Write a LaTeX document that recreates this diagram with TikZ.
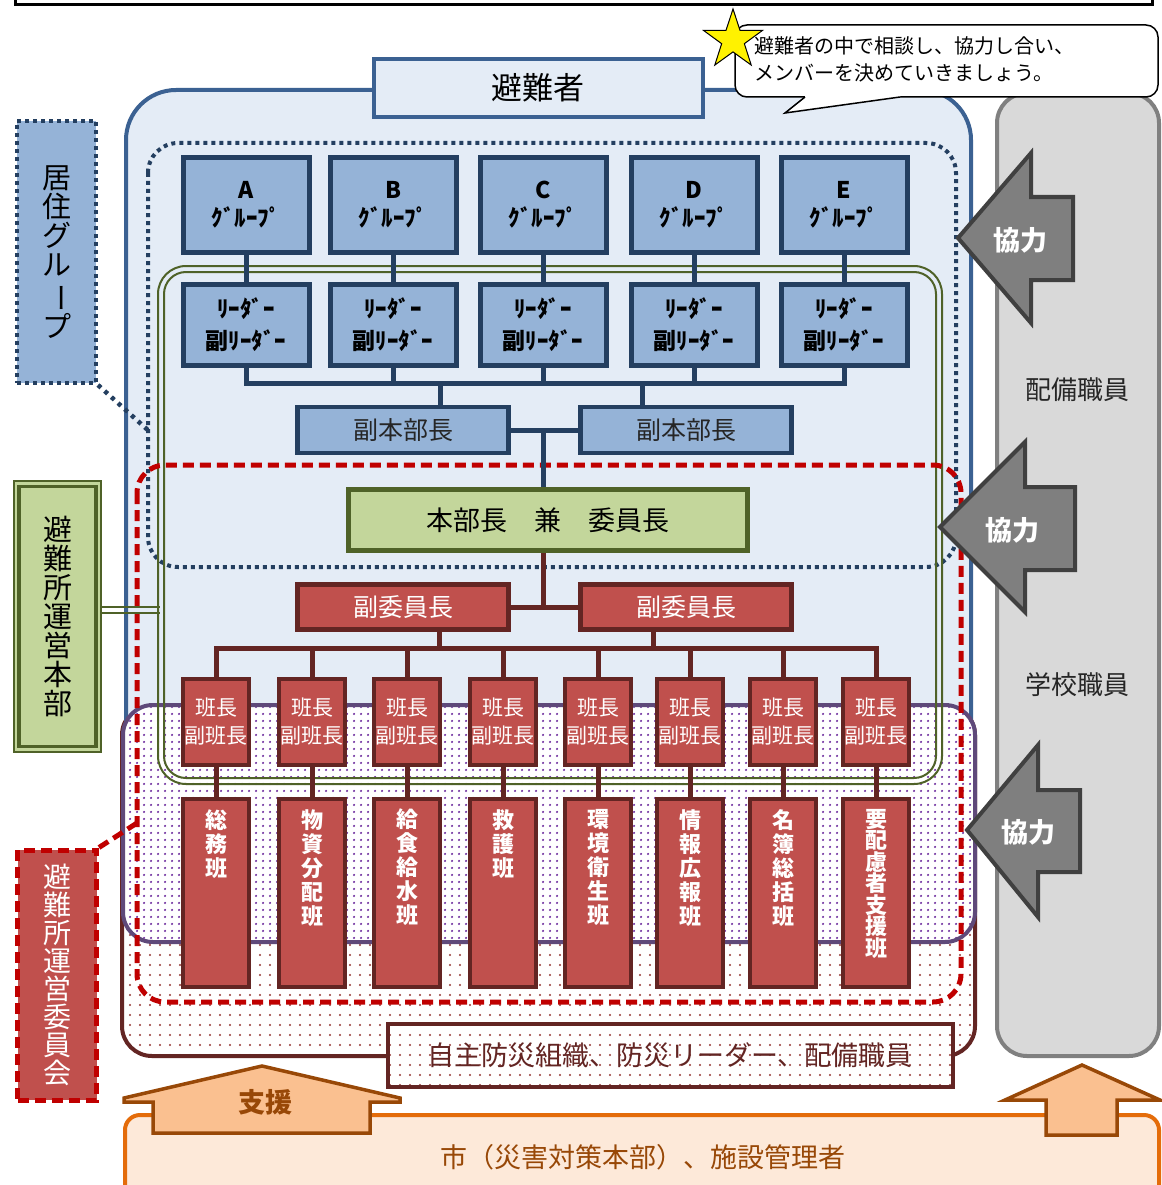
\documentclass[tikz,border=0pt]{standalone}
\usepackage{fontspec}
\usepackage{graphicx}
\setmainfont{Noto Sans CJK JP}
\usetikzlibrary{patterns.meta,shapes.geometric}
\definecolor{navyD}{HTML}{243F60}
\definecolor{blueF}{HTML}{95B3D7}
\definecolor{blueL}{HTML}{3B6192}
\definecolor{bgBlue}{HTML}{E4ECF6}
\definecolor{greenD}{HTML}{4F6228}
\definecolor{greenF}{HTML}{C3D69B}
\definecolor{redD}{HTML}{C00000}
\definecolor{redF}{HTML}{C0504D}
\definecolor{maroonD}{HTML}{632523}
\definecolor{purpleD}{HTML}{5F497A}
\definecolor{purpleDot}{HTML}{7030A0}
\definecolor{maroonDot}{HTML}{953735}
\definecolor{grayF}{HTML}{D9D9D9}
\definecolor{grayB}{HTML}{808080}
\definecolor{arrowF}{HTML}{7F7F7F}
\definecolor{arrowB}{HTML}{404040}
\definecolor{orangeF}{HTML}{FDE9D9}
\definecolor{orangeB}{HTML}{E46C0A}
\definecolor{brownD}{HTML}{984807}
\definecolor{peach}{HTML}{FAC090}
\definecolor{textG}{HTML}{262626}
\tikzset{
  grp/.style={draw=navyD, fill=blueF, line width=5, minimum width=126, minimum height=95, align=center, inner sep=0, font=\bfseries\fontsize{23}{28}\selectfont},
  ldr/.style={grp, minimum height=81, font=\bfseries\fontsize{23}{32}\selectfont},
  vice/.style={draw=navyD, fill=blueF, line width=4.5, minimum width=211, minimum height=46, inner sep=0, text=black!85, font=\fontsize{25}{30}\selectfont},
  redbox/.style={draw=maroonD, fill=redF, line width=4.5, text=white, inner sep=0},
  vcom/.style={redbox, minimum width=211, minimum height=45, font=\fontsize{25}{30}\selectfont},
  hancho/.style={redbox, minimum width=66, minimum height=86, align=center, font=\fontsize{21}{28}\selectfont},
  han/.style={redbox, minimum width=66, minimum height=188},
  hantext/.style={anchor=north, text=white, align=center, inner sep=0},
  navyln/.style={draw=navyD, line width=5},
  redln/.style={draw=maroonD, line width=5},
  kyoryoku/.style={draw=arrowB, fill=arrowF, line width=4, line join=miter},
  kytext/.style={text=white, font=\bfseries\fontsize{27}{30}\selectfont},
  shien/.style={draw=brownD, fill=peach, line width=3.5, line join=miter},
  vlabel/.style={align=center, inner sep=0},
  mdots/.style={preaction={fill=white}, pattern={Dots[distance=10pt,radius=1.2pt]}, pattern color=maroonDot},
  pdots/.style={preaction={fill=white}, pattern={Dots[distance=6.5pt,radius=1.3pt]}, pattern color=purpleDot},
}
\newcommand{\mkhan}[4]{%
  \node[hancho] (HC#1) at (#2,722) {班長\\副班長};
  \node[han] (H#1) at (#2,893) {};
  \node[hantext, font=\bfseries\fontsize{22}{#4}\selectfont] (HT#1) at (#2,809) {#3};
  \draw[redln] (HC#1.south) -- (H#1.north);
}
\newcommand{\vbar}{\rotatebox[origin=c]{-90}{ー}}
\begin{document}
\begin{tikzpicture}[x=1pt,y=-1pt]
\useasboundingbox (0,0) rectangle (1161,1185);
\fill[white] (0,0) rectangle (1161,1185);

% top box (cut off)
\draw[black, line width=3] (15,-20) rectangle (1152,5);

% grey staff column
\draw[grayB, fill=grayF, line width=4, rounded corners=30] (997,93) rectangle (1159,1056);
\node[text=textG, font=\fontsize{26}{30}\selectfont] (HBS) at (1077,390) {配備職員};
\node[text=textG, font=\fontsize{26}{30}\selectfont] (GKS) at (1077,685) {学校職員};

% maroon lower region
\draw[maroonD, line width=4, rounded corners=30, mdots] (122,705) rectangle (975,1056);
% blue evacuee region
\draw[blueL, line width=4, fill=bgBlue, rounded corners=50] (126,90) rectangle (971,930);
% purple region
\draw[purpleD, line width=4, rounded corners=30, pdots] (123,705) rectangle (975,942);

\node[draw=blueL, fill=bgBlue, line width=4, minimum width=329, minimum height=58, font=\fontsize{31}{36}\selectfont] (HN) at (538,88) {避難者};

% navy dotted region
\draw[navyD, line width=4, dash pattern=on 4 off 4, rounded corners=30] (148,143) rectangle (956,567);
% green double region
\draw[greenD, line width=2, rounded corners=28] (158,266) rectangle (942,784);
\draw[greenD, line width=2, rounded corners=22] (164,272) rectangle (936,778);
% red dashed region
\draw[redD, line width=5, dash pattern=on 11 off 6, rounded corners=28] (137,465) rectangle (961,1002);

% groups and leaders
\node[grp] (GA) at (246,205) {A\\ｸﾞﾙｰﾌﾟ};
\node[grp] (GB) at (393,205) {B\\ｸﾞﾙｰﾌﾟ};
\node[grp] (GC) at (543,205) {C\\ｸﾞﾙｰﾌﾟ};
\node[grp] (GD) at (694,205) {D\\ｸﾞﾙｰﾌﾟ};
\node[grp] (GE) at (844,205) {E\\ｸﾞﾙｰﾌﾟ};
\node[ldr] (LA) at (246,325) {ﾘｰﾀﾞｰ\\副ﾘｰﾀﾞｰ};
\node[ldr] (LB) at (393,325) {ﾘｰﾀﾞｰ\\副ﾘｰﾀﾞｰ};
\node[ldr] (LC) at (543,325) {ﾘｰﾀﾞｰ\\副ﾘｰﾀﾞｰ};
\node[ldr] (LD) at (694,325) {ﾘｰﾀﾞｰ\\副ﾘｰﾀﾞｰ};
\node[ldr] (LE) at (844,325) {ﾘｰﾀﾞｰ\\副ﾘｰﾀﾞｰ};
\foreach \n in {A,B,C,D,E} \draw[navyln] (G\n.south) -- (L\n.north);
\coordinate (busT) at (0,383);
\draw[navyln] (LA.south) -- (LA.south |- busT) -- (LE.south |- busT) -- (LE.south);
\foreach \n in {B,C,D} \draw[navyln] (L\n.south) -- (L\n.south |- busT);

\node[vice] (VH1) at (403,430) {副本部長};
\node[vice] (VH2) at (686,430) {副本部長};
\coordinate (vx1) at (440,383);
\coordinate (vx2) at (642,383);
\draw[navyln] (vx1) -- (vx1 |- VH1.north);
\draw[navyln] (vx2) -- (vx2 |- VH2.north);
\draw[navyln] (VH1.east) -- (VH2.west);

\node[draw=greenD, fill=greenF, line width=5, minimum width=399, minimum height=61, inner sep=0, font=\fontsize{27}{32}\selectfont] (HB) at (548,520) {本部長　兼　委員長};
\coordinate (hx) at (543,430);
\draw[navyln] (hx) -- (hx |- HB.north);

\node[vcom] (VC1) at (403,607) {副委員長};
\node[vcom] (VC2) at (686,607) {副委員長};
\coordinate (hx2) at (543,607);
\draw[redln] (hx2 |- HB.south) -- (hx2);
\draw[redln] (VC1.east) -- (VC2.west);

% teams
\mkhan{1}{216}{総\\務\\班}{24}
\mkhan{2}{312}{物\\資\\分\\配\\班}{24}
\mkhan{3}{407}{給\\食\\給\\水\\班}{24}
\mkhan{4}{503}{救\\護\\班}{24}
\mkhan{5}{598}{環\\境\\衛\\生\\班}{24}
\mkhan{6}{690}{情\\報\\広\\報\\班}{24}
\mkhan{7}{783}{名\\簿\\総\\括\\班}{24}
\mkhan{8}{876}{要\\配\\慮\\者\\支\\援\\班}{21.5}

\coordinate (busB) at (0,648);
\coordinate (cx1) at (439,632);
\coordinate (cx2) at (653,632);
\draw[redln] (cx1 |- VC1.south) -- (cx1 |- busB);
\draw[redln] (cx2 |- VC2.south) -- (cx2 |- busB);
\draw[redln] (HC1.north) -- (HC1.north |- busB) -- (HC8.north |- busB) -- (HC8.north);
\foreach \n in {2,...,7} \draw[redln] (HC\n.north) -- (HC\n.north |- busB);

% bottom community box
\node[draw=maroonD, line width=4, mdots, minimum width=565, minimum height=63, inner sep=0, text=maroonD, font=\fontsize{27}{32}\selectfont] (JB) at (670,1055) {自主防災組織、防災リーダー、配備職員};

% cooperation arrows
\draw[kyoryoku] (958,238) -- (1031,153) -- (1031,197) -- (1073,197) -- (1073,280) -- (1031,280) -- (1031,323) -- cycle;
\node[kytext] (K1) at (1020,240) {協力};
\draw[kyoryoku] (940,527) -- (1025,442) -- (1025,487) -- (1075,487) -- (1075,570) -- (1025,570) -- (1025,612) -- cycle;
\node[kytext] (K2) at (1012,530) {協力};
\draw[kyoryoku] (967,830) -- (1038,745) -- (1038,790) -- (1080,790) -- (1080,872) -- (1038,872) -- (1038,917) -- cycle;
\node[kytext] (K3) at (1028,832) {協力};

% left labels
\node[vlabel, draw=navyD, fill=blueF, line width=4, dash pattern=on 4 off 4, minimum width=79, minimum height=262, font=\fontsize{29}{29}\selectfont] (KG) at (56.5,252) {居\\住\\グ\\ル\\\vbar\\プ};
\coordinate (kgend) at (150,432);
\draw[navyD, line width=4.5, dash pattern=on 4 off 5] (KG.south east) -- (kgend);

\node[draw=greenD, fill=greenF, line width=2, minimum width=87, minimum height=271, inner sep=0] (UH) at (57.5,616.5) {};
\node[vlabel, draw=greenD, line width=3.5, minimum width=77, minimum height=260, font=\fontsize{29}{29}\selectfont] (UHi) at (UH.center) {避\\難\\所\\運\\営\\本\\部};
\coordinate (uc1) at (160,607);
\coordinate (uc2) at (160,613);
\draw[greenD, line width=2] (uc1 -| UH.east) -- (uc1);
\draw[greenD, line width=2] (uc2 -| UH.east) -- (uc2);

\node[vlabel, draw=redD, fill=redF, line width=5, dash pattern=on 11 off 6, minimum width=79, minimum height=250, text=white, font=\fontsize{28}{28}\selectfont] (IK) at (57,975) {避\\難\\所\\運\\営\\委\\員\\会};
\coordinate (ikend) at (137,823);
\draw[redD, line width=5, dash pattern=on 11 off 6] (IK.north east) -- (ikend);

% city box and support arrows
\draw[orangeB, fill=orangeF, line width=4, rounded corners=15] (125,1115) rectangle (1159,1205);
\node[text=brownD, font=\fontsize{27}{32}\selectfont] (CITY) at (643,1157) {市（災害対策本部）、施設管理者};
\draw[shien] (262,1066) -- (400,1098) -- (400,1102) -- (370,1102) -- (370,1133) -- (153,1133) -- (153,1102) -- (124,1102) -- (124,1098) -- cycle;
\node[text=brownD, font=\bfseries\fontsize{27}{30}\selectfont] (SE) at (265,1102) {支援};
\draw[shien] (1082,1065) -- (1160,1100) -- (1117,1100) -- (1117,1135) -- (1046,1135) -- (1046,1100) -- (1005,1100) -- cycle;

% callout
\draw[black, line width=1.5, fill=white, rounded corners=12] (735,25) rectangle (1158,97);
\fill[white] (805,94) -- (900,94) -- (900,97) -- (785,113) -- (805,97) -- cycle;
\draw[black, line width=1.5] (805,97) -- (785,113) -- (900,97);
\node[anchor=north west, align=left, inner sep=0, font=\fontsize{20}{27}\selectfont] (CT) at (754,36) {避難者の中で相談し、協力し合い、\\メンバーを決めていきましょう。};
\node[star, star points=5, star point ratio=2.6, draw=black, fill=yellow, line width=1, minimum size=62, inner sep=0] (ST) at (733,40) {};
\end{tikzpicture}
\end{document}
